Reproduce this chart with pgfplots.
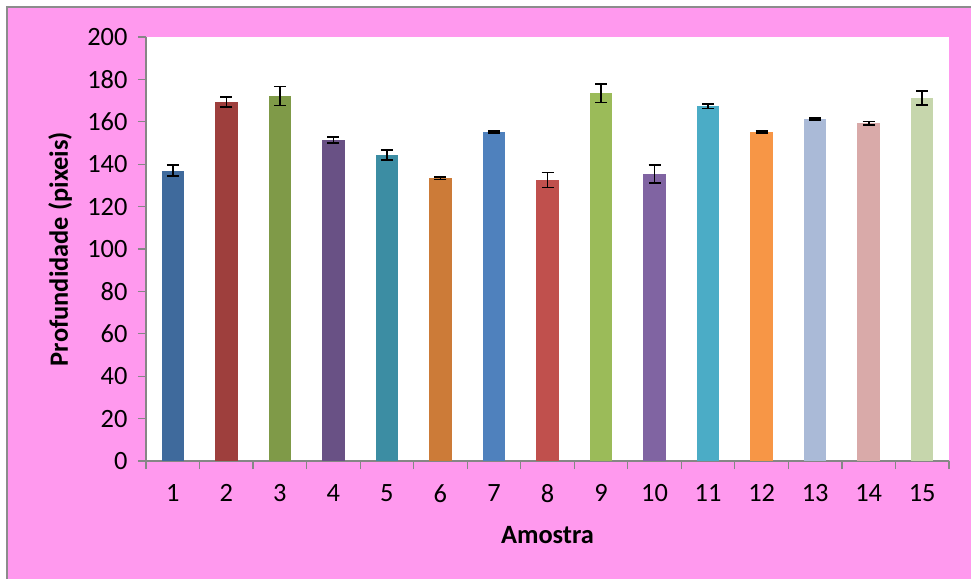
\documentclass[border=0pt]{standalone}
\usepackage{pgfplots}
\pgfplotsset{compat=1.18}
\usepackage{fontspec}
\setmainfont{Carlito}

\definecolor{chartbg}{HTML}{FF99EE}
\definecolor{framegray}{HTML}{8C8C8C}
\definecolor{axisgray}{HTML}{868686}
\definecolor{c1}{HTML}{3F6A9C}
\definecolor{c2}{HTML}{9E3F3D}
\definecolor{c3}{HTML}{7F9A48}
\definecolor{c4}{HTML}{695185}
\definecolor{c5}{HTML}{3C8DA3}
\definecolor{c6}{HTML}{CC7B38}
\definecolor{c7}{HTML}{4F81BD}
\definecolor{c8}{HTML}{C0504D}
\definecolor{c9}{HTML}{9BBB59}
\definecolor{c10}{HTML}{8064A2}
\definecolor{c11}{HTML}{4BACC6}
\definecolor{c12}{HTML}{F79646}
\definecolor{c13}{HTML}{AABAD7}
\definecolor{c14}{HTML}{D9AAA9}
\definecolor{c15}{HTML}{C6D6AC}

\pgfplotsset{
  sample/.style={
    ybar, bar shift=0pt, bar width=22.5bp, fill=#1, draw=none,
    error bars/.cd, y dir=both, y explicit,
    error bar style={black, line width=1.6bp},
    error mark options={rotate=90, mark size=6bp, line width=1.6bp, black},
  },
}

\begin{document}
\begin{tikzpicture}
  \path[use as bounding box] (0bp,0bp) rectangle (971bp,579bp);
  \fill[white] (0bp,0bp) rectangle (971bp,579bp);
  \fill[chartbg] (7bp,0bp) rectangle (971bp,572bp);
  \draw[framegray, line width=1.5bp] (7bp,-2bp) -- (7bp,572bp) -- (973bp,572bp);
  \begin{axis}[
    at={(146bp,118bp)}, anchor=south west,
    scale only axis, width=803bp, height=424bp,
    xmin=0.5, xmax=15.5, ymin=0, ymax=200,
    ytick distance=20,
    % tick marks sit between the categories, labels under each bar
    xtick={0.5,1.5,...,15.5},
    xticklabels={},
    extra x ticks={1,...,15},
    extra x tick style={major tick length=0pt},
    tick style={draw=axisgray, line width=1.2bp},
    major tick length=8bp,
    tick align=outside,
    axis x line*=bottom, axis y line*=left,
    axis line style={draw=axisgray, line width=1.5bp, -},
    axis background/.style={fill=white},
    tick label style={font=\fontsize{26.5}{30}\selectfont, text=black},
    /pgf/number format/assume math mode=true,
    yticklabel style={xshift=-7bp},
    xticklabel style={yshift=-20bp},
    xlabel={\textbf{Amostra}},
    ylabel={\textbf{Profundidade (pixeis)}},
    label style={font=\fontsize{26.5}{30}\selectfont},
    xlabel style={at={(axis description cs:0.5,-0.175)}, anchor=center},
    ylabel style={at={(axis description cs:-0.107,0.5)}, anchor=center},
    clip=false,
  ]
    \addplot[sample=c1]  coordinates {(1,137)   +- (0,2.5)};
    \addplot[sample=c2]  coordinates {(2,169.3) +- (0,2.3)};
    \addplot[sample=c3]  coordinates {(3,172.2) +- (0,4.5)};
    \addplot[sample=c4]  coordinates {(4,151.4) +- (0,1.4)};
    \addplot[sample=c5]  coordinates {(5,144.3) +- (0,2.3)};
    \addplot[sample=c6]  coordinates {(6,133.3) +- (0,0.6)};
    \addplot[sample=c7]  coordinates {(7,155.2) +- (0,0.5)};
    \addplot[sample=c8]  coordinates {(8,132.5) +- (0,3.5)};
    \addplot[sample=c9]  coordinates {(9,173.5) +- (0,4.4)};
    \addplot[sample=c10] coordinates {(10,135.4) +- (0,4.2)};
    \addplot[sample=c11] coordinates {(11,167.4) +- (0,1.1)};
    \addplot[sample=c12] coordinates {(12,155.2) +- (0,0.5)};
    \addplot[sample=c13] coordinates {(13,161.3) +- (0,0.5)};
    \addplot[sample=c14] coordinates {(14,159.4) +- (0,0.8)};
    \addplot[sample=c15] coordinates {(15,171.2) +- (0,3.4)};
  \end{axis}
\end{tikzpicture}
\end{document}
